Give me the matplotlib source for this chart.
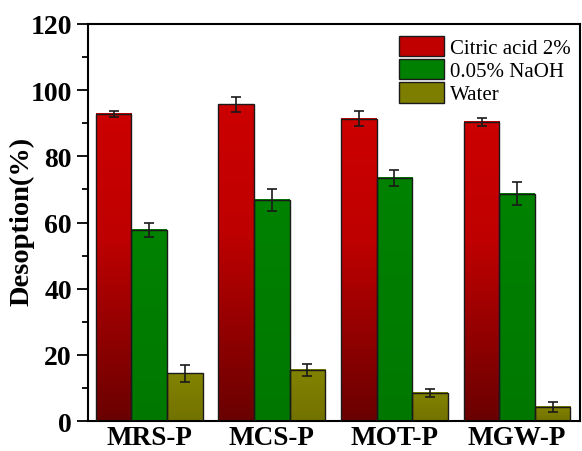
import numpy as np
import matplotlib
matplotlib.use('Agg')
import matplotlib.pyplot as plt
from matplotlib.colors import LinearSegmentedColormap
from matplotlib.patches import Patch

samples = ["MRS-P", "MCS-P", "MOT-P", "MGW-P"]
series = ["Citric acid 2%", "0.05% NaOH", "Water"]
citric = [92.8, 95.7, 91.4, 90.4]
citric_err = [1.0, 2.3, 2.4, 1.3]
naoh = [57.8, 66.8, 73.4, 68.7]
naoh_err = [2.1, 3.4, 2.4, 3.5]
water = [14.4, 15.5, 8.6, 4.3]
water_err = [2.5, 1.8, 1.2, 1.4]

plt.rcParams['font.family'] = ['Liberation Serif', 'DejaVu Serif']

cmaps = [
    LinearSegmentedColormap.from_list("red", [(0, "#6a0000"), (0.6, "#bf0000"), (1, "#cc0000")]),
    LinearSegmentedColormap.from_list("green", ["#007800", "#008200"]),
    LinearSegmentedColormap.from_list("olive", ["#727200", "#838300"]),
]
solid = ["#c00000", "#008000", "#7d7d00"]

fig = plt.figure(figsize=(5.82, 4.52), dpi=100)
ax = fig.add_axes([0.151, 0.066, 0.845, 0.879])

x = np.arange(1, len(samples) + 1)
width = 0.29
data = [(citric, citric_err), (naoh, naoh_err), (water, water_err)]
grad = np.linspace(0, 1, 256).reshape(-1, 1)

for i, (vals, errs) in enumerate(data):
    pos = x + (i - 1) * width
    bars = ax.bar(pos, vals, width, color='none', edgecolor='#1a1a1a', lw=1.0, zorder=3)
    for b in bars:
        x0, y0 = b.get_xy()
        ax.imshow(grad, extent=[x0, x0 + b.get_width(), y0, y0 + b.get_height()],
                  origin='lower', cmap=cmaps[i], aspect='auto', zorder=2)
    ax.errorbar(pos, vals, yerr=errs, fmt='none', ecolor='#1a1a1a', elinewidth=1.2,
                capsize=3.5, capthick=1.2, zorder=4)

ax.set_xlim(0.5, 4.51)
ax.set_ylim(0, 120)
ax.set_xticks(x)
ax.set_xticklabels(samples, fontsize=19.5, fontweight='bold')
ax.set_yticks(np.arange(0, 121, 20))
ax.set_yticks(np.arange(0, 121, 10), minor=True)
ax.tick_params(axis='y', which='major', length=8, width=1.3, labelsize=20, direction='out', pad=3.5)
ax.tick_params(axis='y', which='minor', length=4, width=1.3, direction='out')
ax.tick_params(axis='x', length=0, pad=3)
for lab in ax.get_yticklabels():
    lab.set_fontweight('bold')
ax.set_ylabel("Desoption(%)", fontsize=20.5, fontweight='bold')
ax.yaxis.set_label_coords(-0.108, 0.505)

for s in ax.spines.values():
    s.set_linewidth(1.5)

handles = [Patch(facecolor=c, edgecolor='#1a1a1a', lw=1.0) for c in solid]
ax.legend(handles, series, loc='upper left', bbox_to_anchor=(0.632, 0.97), frameon=False,
          fontsize=15, handlelength=2.16, handleheight=1.12, labelspacing=0.05,
          handletextpad=0.28, borderpad=0, borderaxespad=0)

fig.savefig("out.png", dpi=100)
